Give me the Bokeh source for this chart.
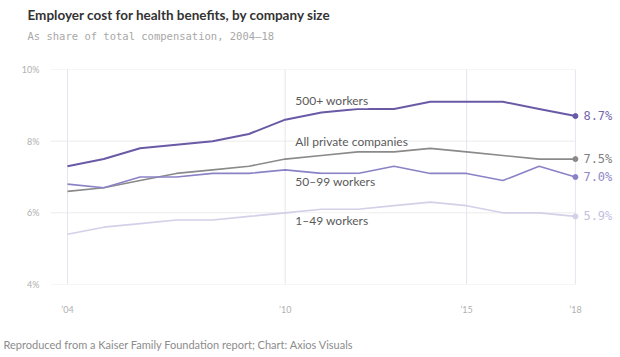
from bokeh.plotting import figure
from bokeh.models import Range1d, FixedTicker, Label, ColumnDataSource, Title
from bokeh.core.properties import value
from bokeh.embed import file_html
from bokeh.resources import INLINE

# ---- data ----
years = list(range(2004, 2019))
large = [7.3, 7.5, 7.8, 7.9, 8.0, 8.2, 8.6, 8.8, 8.9, 8.9, 9.1, 9.1, 9.1, 8.9, 8.7]
all_private = [6.6, 6.7, 6.9, 7.1, 7.2, 7.3, 7.5, 7.6, 7.7, 7.7, 7.8, 7.7, 7.6, 7.5, 7.5]
mid = [6.8, 6.7, 7.0, 7.0, 7.1, 7.1, 7.2, 7.1, 7.1, 7.3, 7.1, 7.1, 6.9, 7.3, 7.0]
small = [5.4, 5.6, 5.7, 5.8, 5.8, 5.9, 6.0, 6.1, 6.1, 6.2, 6.3, 6.2, 6.0, 6.0, 5.9]
series_names = ["500+ workers", "All private companies", "50–99 workers", "1–49 workers"]
y_ticks = [4, 6, 8, 10]
y_tick_labels = ["4%", "6%", "8%", "10%"]
x_ticks = [2004, 2010, 2015, 2018]
x_tick_labels = ["’04", "’10", "’15", "’18"]

title = "Employer cost for health benefits, by company size"
subtitle = "As share of total compensation, 2004–18"
footer = "Reproduced from a Kaiser Family Foundation report; Chart: Axios Visuals"

# ---- style ----
line_colors = ["#6a5aa6", "#8a8a8a", "#8a82c6", "#d3d0e8"]
end_colors = ["#7468ac", "#7f7f7f", "#8f87c8", "#c4c0e0"]
line_widths = [2, 1.6, 1.6, 1.6]
name_anchor_x = [2010.28, 2010.28, 2010.28, 2010.28]
name_anchor_y = [9.13, 8.0, 6.87, 5.79]
SANS = "Lato"
MONO = "DejaVu Sans Mono"

PX_PER_YEAR = 36.28
x0 = years[0] - 17 / PX_PER_YEAR
x1 = x0 + 570 / PX_PER_YEAR

p = figure(frame_width=570, frame_height=215, output_backend="svg", toolbar_location=None,
           x_range=Range1d(x0, x1), y_range=Range1d(4, 10), title=None,
           min_border_left=50, min_border_right=0, min_border_top=69, min_border_bottom=73)
p.outline_line_color = None
p.grid.visible = False
p.background_fill_color = "white"
p.border_fill_color = "white"

# axes
p.xaxis.ticker = FixedTicker(ticks=x_ticks)
p.xaxis.major_label_overrides = dict(zip(x_ticks, x_tick_labels))
p.yaxis.ticker = FixedTicker(ticks=y_ticks)
p.yaxis.major_label_overrides = dict(zip(y_ticks, y_tick_labels))
for ax in (p.xaxis, p.yaxis):
    ax.axis_line_color = None
    ax.major_tick_line_color = None
    ax.minor_tick_line_color = None
    ax.major_label_text_color = "#b0b0b0"
    ax.major_label_text_font = SANS
    ax.major_label_text_font_size = "9px"
p.xaxis.major_label_standoff = 13
p.yaxis.major_label_standoff = 5

# grid lines (limited to data extent)
p.segment(x0=[x0] * len(y_ticks), x1=[years[-1]] * len(y_ticks), y0=y_ticks, y1=y_ticks,
          line_color="#ebebeb", line_width=1)
p.segment(x0=x_ticks, x1=x_ticks, y0=[y_ticks[0]] * len(x_ticks), y1=[y_ticks[-1]] * len(x_ticks),
          line_color="#e6e4ef", line_width=1)

# series
all_series = [large, all_private, mid, small]
for vals, col, lw in zip(all_series, line_colors, line_widths):
    p.line(years, vals, line_color=col, line_width=lw)

# end points and labels
ends = [s[-1] for s in all_series]
src = ColumnDataSource(dict(x=[years[-1]] * 4, y=ends,
                            t=[f"{v:.1f}%" for v in ends], c=end_colors, lc=line_colors))
p.scatter("x", "y", source=src, size=5, color="lc")
p.text("x", "y", text="t", source=src, x_offset=8, text_baseline="middle",
       text_color="c", text_font=value(MONO), text_font_size="12px")

# series name labels
for nm, lx, ly in zip(series_names, name_anchor_x, name_anchor_y):
    p.add_layout(Label(x=lx, y=ly, text=nm, text_font=SANS, text_font_size="12px",
                       text_color="#5a5a5a", text_baseline="middle",
                       background_fill_color="white", background_fill_alpha=1.0))

# titles: spacer closest to frame, then subtitle, then main title
p.add_layout(Title(text=" ", standoff=25, text_font_size="1px"), "above")
p.add_layout(Title(text=subtitle, align="left", offset=-23, standoff=0,
                   text_font=MONO, text_font_size="10.5px", text_font_style="normal",
                   text_color="#a8a8a8"), "above")
p.add_layout(Title(text=title, align="left", offset=-23, standoff=9,
                   text_font=SANS, text_font_size="13.5px", text_font_style="bold",
                   text_color="#333333"), "above")
p.add_layout(Title(text=footer, align="left", offset=-47, standoff=36,
                   text_font=SANS, text_font_size="11px", text_font_style="normal",
                   text_color="#8c8c8c"), "below")

open("out.html", "w").write(file_html(p, INLINE))
